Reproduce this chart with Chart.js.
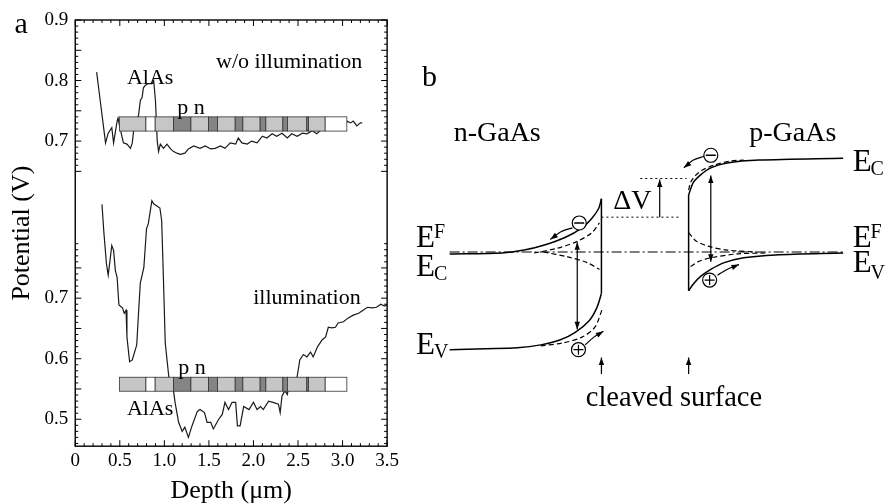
<!DOCTYPE html>
<html>
<head>
<meta charset="utf-8">
<script src="https://cdn.jsdelivr.net/npm/chart.js@4.4.1/dist/chart.umd.min.js"></script>
<style>
  body { margin: 0; background: #fff; }
  #wrap { position: relative; width: 891px; height: 504px; }
  canvas { position: absolute; top: 0; }
</style>
</head>
<body>
<div id="wrap">
  <canvas id="chartA" width="402" height="504" style="left:0"></canvas>
  <canvas id="chartB" width="491" height="504" style="left:400px"></canvas>
</div>
<script>
// ---------- panel a : potential profiles ----------
const depthDark = [0.24, 0.28, 0.34, 0.37, 0.41, 0.43, 0.47, 0.48, 0.505, 0.54,
  0.58, 0.62, 0.64, 0.655, 0.675, 0.71, 0.73, 0.75, 0.765, 0.785,
  0.82, 0.86, 0.88, 0.90, 0.92, 0.935, 0.955, 0.99, 1.03, 1.07,
  1.10, 1.14, 1.18, 1.23, 1.27, 1.33, 1.40, 1.46, 1.52, 1.57,
  1.63, 1.68, 1.74, 1.80, 1.83, 1.87, 1.93, 1.98, 2.04, 2.10,
  2.15, 2.21, 2.26, 2.32, 2.38, 2.43, 2.49, 2.55, 2.60, 2.66,
  2.71, 2.77, 2.80, 3.03, 3.05, 3.09, 3.12, 3.16, 3.20, 3.22];
const potDark = [0.814, 0.767, 0.697, 0.713, 0.722, 0.697, 0.733, 0.738, 0.72, 0.697,
  0.695, 0.688, 0.697, 0.717, 0.733, 0.742, 0.767, 0.772, 0.788, 0.792,
  0.795, 0.795, 0.80, 0.767, 0.70, 0.683, 0.695, 0.688, 0.695, 0.687,
  0.683, 0.68, 0.678, 0.68, 0.687, 0.692, 0.688, 0.692, 0.687, 0.688,
  0.692, 0.688, 0.697, 0.695, 0.705, 0.697, 0.695, 0.70, 0.697, 0.708,
  0.705, 0.712, 0.708, 0.713, 0.705, 0.712, 0.708, 0.713, 0.712, 0.717,
  0.712, 0.72, 0.722, 0.725, 0.733, 0.73, 0.733, 0.725, 0.73, 0.73];

const depthLight = [0.30, 0.32, 0.35, 0.37, 0.39, 0.41, 0.43, 0.45, 0.47, 0.49,
  0.53, 0.55, 0.57, 0.58, 0.61, 0.64, 0.69, 0.71, 0.73, 0.77,
  0.80, 0.82, 0.86, 0.88, 0.92, 0.95, 0.97, 0.99, 1.01, 1.05,
  1.09, 1.12, 1.16, 1.20, 1.23, 1.27, 1.31, 1.37, 1.40, 1.45,
  1.48, 1.52, 1.55, 1.61, 1.65, 1.68, 1.72, 1.76, 1.80, 1.82,
  1.85, 1.89, 1.95, 2.00, 2.04, 2.08, 2.11, 2.17, 2.22, 2.28,
  2.30, 2.32, 2.34, 2.36, 2.38, 2.39, 2.49, 2.52, 2.56, 2.60,
  2.64, 2.67, 2.72, 2.77, 2.81, 2.84, 2.88, 2.92, 2.95, 3.01,
  3.06, 3.12, 3.18, 3.23, 3.28, 3.33, 3.38, 3.43, 3.47, 3.5];
const potLight = [0.855, 0.811, 0.757, 0.738, 0.762, 0.787, 0.779, 0.746, 0.734, 0.689,
  0.684, 0.675, 0.68, 0.636, 0.595, 0.598, 0.623, 0.675, 0.725, 0.751,
  0.815, 0.823, 0.861, 0.856, 0.852, 0.849, 0.828, 0.730, 0.626, 0.570,
  0.561, 0.528, 0.495, 0.48, 0.487, 0.47, 0.489, 0.513, 0.516, 0.511,
  0.495, 0.495, 0.484, 0.50, 0.508, 0.528, 0.516, 0.528, 0.528, 0.489,
  0.489, 0.521, 0.516, 0.528, 0.516, 0.521, 0.516, 0.53, 0.528, 0.525,
  0.511, 0.538, 0.544, 0.546, 0.541, 0.549, 0.570, 0.598, 0.607, 0.603,
  0.611, 0.603, 0.620, 0.631, 0.636, 0.652, 0.651, 0.652, 0.659, 0.661,
  0.667, 0.672, 0.675, 0.68, 0.685, 0.684, 0.685, 0.69, 0.687, 0.689];

const upperTicks = [0.9, 0.8, 0.7];
const lowerTicks = [0.7, 0.6, 0.5];

// layer stack of the sample (depth edges), l = GaAs, d = doped, w = AlAs
const layerEdges = [0.497, 0.793, 0.897, 1.103, 1.298, 1.496, 1.597, 1.795, 1.881,
  2.075, 2.139, 2.33, 2.382, 2.599, 2.617, 2.805, 3.048];
const layerTypes = ['l', 'w', 'l', 'd', 'l', 'd', 'l', 'd', 'l', 'd', 'l', 'd', 'l', 'd', 'l', 'w'];

// ---------- panel b : band diagram (position, energy in arb. units) ----------
const nEcX = [0.07, 1.39, 1.95, 2.44, 2.98, 3.41, 3.66, 3.83, 3.90];
const nEcE = [-0.04, -0.02, 0.04, 0.14, 0.30, 0.50, 0.70, 0.90, 1.10];
const nEvX = [3.90, 3.78, 3.59, 3.24, 2.85, 2.37, 1.78, 0.98, 0.07];
const nEvE = [-0.86, -1.16, -1.42, -1.66, -1.82, -1.92, -1.98, -2.0, -2.02];
const nEcDashX = [2.20, 2.80, 3.29, 3.66, 3.85];
const nEcDashE = [-0.02, 0.08, 0.22, 0.40, 0.60];
const nQfX = [2.44, 3.05, 3.54, 3.85];
const nQfE = [0.0, -0.10, -0.22, -0.36];
const nEvDashX = [2.37, 2.93, 3.41, 3.73, 3.93];
const nEvDashE = [-1.94, -1.88, -1.76, -1.56, -1.16];

const pEcX = [10.0, 7.88, 7.07, 6.66, 6.41, 6.22, 6.10];
const pEcE = [1.94, 1.90, 1.84, 1.74, 1.60, 1.44, 1.18];
const pEvX = [6.10, 6.22, 6.41, 6.66, 7.0, 7.49, 8.29, 10.0];
const pEvE = [-0.80, -0.66, -0.50, -0.36, -0.22, -0.12, -0.06, -0.02];
const pEcDashX = [6.10, 6.15, 6.27, 6.46, 6.76, 7.15, 7.49];
const pEcDashE = [1.28, 1.44, 1.58, 1.70, 1.80, 1.88, 1.90];
const pEvDashX = [6.15, 6.34, 6.66, 7.32, 8.05];
const pEvDashE = [-0.30, -0.20, -0.12, -0.04, -0.02];
const pQfX = [6.10, 6.27, 6.59, 7.07, 7.80];
const pQfE = [0.40, 0.24, 0.12, 0.04, 0.0];

const surfaceX = [3.90, 6.10];
const efLevel = 0.0;
const dvLow = 0.72, dvHigh = 1.52;

const FONT = '"Liberation Serif", "Times New Roman", serif';
Chart.defaults.font.family = FONT;
Chart.defaults.color = '#000';

const toXY = (xs, ys) => xs.map((x, i) => ({ x: x, y: ys[i] }));

// scales of panel a: the upper trace and the lower trace share one frame with a break
const UPPER_MIN = 0.196, UPPER_MAX = 0.9;
const LOWER_MIN = 0.4555, LOWER_MAX = 1.1595;
const SHIFT = LOWER_MAX - UPPER_MAX;
const yTickValues = upperTicks.concat(lowerTicks.map(v => v - SHIFT));

const aLabels = [
  { t: 'a', x: -0.606, y: 0.892, axis: 'y', size: 30 },
  { t: 'w/o illumination', x: 2.40, y: 0.8306, axis: 'y', size: 22 },
  { t: 'AlAs', x: 0.84, y: 0.804, axis: 'y', size: 22 },
  { t: 'p n', x: 1.30, y: 0.7545, axis: 'y', size: 22 },
  { t: 'illumination', x: 2.60, y: 0.70, axis: 'yL', size: 22 },
  { t: 'p n', x: 1.31, y: 0.584, axis: 'yL', size: 22 },
  { t: 'AlAs', x: 0.84, y: 0.5165, axis: 'yL', size: 22 }
];
const layerBars = [
  { axis: 'y', top: 0.740, bottom: 0.7165 },
  { axis: 'yL', top: 0.5694, bottom: 0.5463 }
];
const layerColors = { l: '#c6c6c6', d: '#858585', w: '#ffffff' };

const panelAPlugin = {
  id: 'panelA',
  afterDatasetsDraw(chart) {
    const { ctx, scales } = chart;
    const x = scales.x;
    ctx.save();
    // sample layer bars
    layerBars.forEach(b => {
      const sy = scales[b.axis];
      const t = sy.getPixelForValue(b.top), bt = sy.getPixelForValue(b.bottom);
      for (let i = 0; i < layerTypes.length; i++) {
        const x0 = x.getPixelForValue(layerEdges[i]);
        const x1 = x.getPixelForValue(layerEdges[i + 1]);
        ctx.fillStyle = layerColors[layerTypes[i]];
        ctx.fillRect(x0, t, x1 - x0, bt - t);
        ctx.strokeStyle = '#333';
        ctx.lineWidth = 0.8;
        ctx.strokeRect(x0, t, x1 - x0, bt - t);
      }
    });
    ctx.restore();
  },
  afterDraw(chart) {
    const { ctx, chartArea: a, scales } = chart;
    const x = scales.x;
    ctx.save();
    ctx.strokeStyle = '#000';
    ctx.lineWidth = 1.4;
    ctx.strokeRect(a.left, a.top, a.right - a.left, a.bottom - a.top);
    ctx.lineWidth = 1;
    ctx.beginPath();
    for (let i = 0; i <= 35; i++) {
      const px = x.getPixelForValue(i / 10);
      const len = i % 5 === 0 ? 6 : 3;
      ctx.moveTo(px, a.bottom); ctx.lineTo(px, a.bottom - len);
      ctx.moveTo(px, a.top); ctx.lineTo(px, a.top + len);
    }
    const side = (sc, from, to) => {
      for (let i = from; i <= to; i++) {
        const py = sc.getPixelForValue(i / 100);
        const len = i % 5 === 0 ? 6 : 3;
        ctx.moveTo(a.left, py); ctx.lineTo(a.left + len, py);
        ctx.moveTo(a.right, py); ctx.lineTo(a.right - len, py);
      }
    };
    side(scales.y, 65, 90);
    side(scales.yL, 46, 79);
    ctx.stroke();
    ctx.fillStyle = '#000';
    ctx.textAlign = 'center';
    ctx.textBaseline = 'middle';
    aLabels.forEach(l => {
      ctx.font = l.size + 'px ' + FONT;
      ctx.fillText(l.t, x.getPixelForValue(l.x), scales[l.axis].getPixelForValue(l.y));
    });
    ctx.restore();
  }
};

new Chart(document.getElementById('chartA'), {
  type: 'scatter',
  data: {
    datasets: [
      { label: 'w/o illumination', data: toXY(depthDark, potDark), yAxisID: 'y',
        showLine: true, pointRadius: 0, borderColor: '#1a1a1a', borderWidth: 1.2 },
      { label: 'illumination', data: toXY(depthLight, potLight), yAxisID: 'yL',
        showLine: true, pointRadius: 0, borderColor: '#1a1a1a', borderWidth: 1.2 }
    ]
  },
  options: {
    responsive: false,
    animation: false,
    layout: { padding: { left: 2, right: 11, top: 20, bottom: 0 } },
    plugins: { legend: { display: false }, tooltip: { enabled: false } },
    scales: {
      x: {
        type: 'linear', min: 0, max: 3.5,
        grid: { display: false, drawTicks: false },
        border: { display: false },
        ticks: { stepSize: 0.5, padding: 3, font: { size: 19 },
          callback: v => v === 0 ? '0' : v.toFixed(1) },
        title: { display: true, text: 'Depth (μm)', font: { size: 26, lineHeight: 1 }, padding: { top: 3, bottom: 0 } }
      },
      y: {
        type: 'linear', position: 'left', min: UPPER_MIN, max: UPPER_MAX,
        grid: { display: false, drawTicks: false },
        border: { display: false },
        afterBuildTicks: ax => { ax.ticks = yTickValues.map(v => ({ value: v })); },
        ticks: { padding: 7, font: { size: 19 },
          callback: v => (v > 0.6 ? v : v + SHIFT).toFixed(1) },
        title: { display: true, text: 'Potential (V)', font: { size: 26, lineHeight: 1 }, padding: { top: 7, bottom: 2.5 } }
      },
      yL: { type: 'linear', display: false, min: LOWER_MIN, max: LOWER_MAX }
    }
  },
  plugins: [panelAPlugin]
});

// ---------- panel b ----------
const curve = (xs, es, dash, width, extra) => Object.assign({
  data: toXY(xs, es), showLine: true, pointRadius: 0, borderColor: '#000',
  borderWidth: width || 1.5, borderDash: dash || [], tension: 0.3, order: 3
}, extra || {});

const bLabels = [
  { t: 'b', x: -0.44, y: 3.6, size: 30 },
  { t: 'n-GaAs', x: 1.27, y: 2.44, size: 28 },
  { t: 'p-GaAs', x: 8.73, y: 2.44, size: 28 },
  { t: 'ΔV', x: 4.68, y: 1.04, size: 28 },
  { t: 'cleaved surface', x: 5.73, y: -3.02, size: 28.5 }
];
const eLabels = [
  { sub: 'F', x: -0.78, y: 0.10, sy: 0.28 },
  { sub: 'C', x: -0.78, y: -0.50, sy: -0.58 },
  { sub: 'V', x: -0.78, y: -2.10, sy: -2.20 },
  { sub: 'C', x: 10.24, y: 1.68, sy: 1.60 },
  { sub: 'F', x: 10.24, y: 0.10, sy: 0.28 },
  { sub: 'V', x: 10.24, y: -0.42, sy: -0.56 }
];

function arrowHead(ctx, from, to, size) {
  const ang = Math.atan2(to.y - from.y, to.x - from.x);
  ctx.beginPath();
  ctx.moveTo(to.x, to.y);
  ctx.lineTo(to.x - size * Math.cos(ang - 0.34), to.y - size * Math.sin(ang - 0.34));
  ctx.lineTo(to.x - size * Math.cos(ang + 0.34), to.y - size * Math.sin(ang + 0.34));
  ctx.closePath();
  ctx.fill();
}

const panelBPlugin = {
  id: 'panelB',
  afterDatasetsDraw(chart) {
    const { ctx, scales: { x, y } } = chart;
    ctx.save();
    ctx.fillStyle = '#000';
    chart.data.datasets.forEach((ds, i) => {
      if (!ds.arrow) return;
      const pts = chart.getDatasetMeta(i).data;
      const n = pts.length;
      arrowHead(ctx, pts[n - 2], pts[n - 1], 8);
      if (ds.arrow === 'both') arrowHead(ctx, pts[1], pts[0], 8);
    });
    ctx.textAlign = 'center';
    ctx.textBaseline = 'middle';
    bLabels.forEach(l => {
      ctx.font = l.size + 'px ' + FONT;
      ctx.fillText(l.t, x.getPixelForValue(l.x), y.getPixelForValue(l.y));
    });
    ctx.textAlign = 'left';
    ctx.textBaseline = 'alphabetic';
    eLabels.forEach(l => {
      const px = x.getPixelForValue(l.x);
      ctx.font = '31px ' + FONT;
      ctx.fillText('E', px, y.getPixelForValue(l.y));
      const w = ctx.measureText('E').width;
      ctx.font = '20px ' + FONT;
      ctx.fillText(l.sub, px + w - 1, y.getPixelForValue(l.sy));
    });
    ctx.restore();
  }
};

const circleStyle = { showLine: false, pointStyle: 'circle', pointRadius: 7,
  pointBackgroundColor: '#fff', pointBorderColor: '#000', pointBorderWidth: 1.2, order: 2 };

new Chart(document.getElementById('chartB'), {
  type: 'scatter',
  data: {
    datasets: [
      curve([0.07, 10.0], [efLevel, efLevel], [10, 3, 2, 3], 1.2, { tension: 0 }),
      curve(nEcX, nEcE),
      curve([surfaceX[0], surfaceX[0]], [1.10, -0.86], null, 1.5, { tension: 0 }),
      curve(nEvX, nEvE),
      curve(nEcDashX, nEcDashE, [5, 3], 1.2),
      curve(nQfX, nQfE, [5, 3], 1.2),
      curve(nEvDashX, nEvDashE, [5, 3], 1.2),
      curve(pEcX, pEcE),
      curve([surfaceX[1], surfaceX[1]], [1.18, -0.80], null, 1.5, { tension: 0 }),
      curve(pEvX, pEvE),
      curve(pEcDashX, pEcDashE, [5, 3], 1.2),
      curve(pEvDashX, pEvDashE, [5, 3], 1.2),
      curve(pQfX, pQfE, [5, 3], 1.2),
      curve([4.88, 6.05], [dvHigh, dvHigh], [2, 3], 1, { tension: 0 }),
      curve([3.90, 5.90], [dvLow, dvLow], [2, 3], 1, { tension: 0 }),
      curve([5.37, 5.37], [dvLow, dvHigh - 0.02], null, 1.2, { tension: 0, arrow: 'end' }),
      curve([3.29, 3.29], [0.20, -1.60], null, 1.2, { tension: 0, arrow: 'both' }),
      curve([6.66, 6.66], [1.58, -0.20], null, 1.2, { tension: 0, arrow: 'both' }),
      curve([surfaceX[0], surfaceX[0]], [-2.52, -2.18], null, 1.2, { tension: 0, arrow: 'end' }),
      curve([surfaceX[1], surfaceX[1]], [-2.52, -2.18], null, 1.2, { tension: 0, arrow: 'end' }),
      curve([3.17, 2.88, 2.61], [0.50, 0.42, 0.26], null, 1.2, { arrow: 'end' }),
      curve([3.49, 3.71, 3.95], [-1.92, -1.76, -1.64], null, 1.2, { arrow: 'end' }),
      curve([6.49, 6.22, 5.98], [1.98, 1.90, 1.74], null, 1.2, { arrow: 'end' }),
      curve([6.83, 7.07, 7.37], [-0.48, -0.36, -0.26], null, 1.2, { arrow: 'end' }),
      Object.assign({ data: toXY([3.34, 6.66], [0.60, 2.00]) }, circleStyle),
      Object.assign({ data: toXY([3.32, 6.63], [-2.02, -0.58]) }, circleStyle),
      { data: toXY([3.34, 6.66], [0.60, 2.00]), showLine: false, pointStyle: 'line',
        pointRadius: 5, pointBorderColor: '#000', pointBorderWidth: 1.5, order: 1 },
      { data: toXY([3.32, 6.63], [-2.02, -0.58]), showLine: false, pointStyle: 'cross',
        pointRadius: 5, pointBorderColor: '#000', pointBorderWidth: 1.2, order: 1 }
    ]
  },
  options: {
    responsive: false,
    animation: false,
    layout: { padding: 0 },
    plugins: { legend: { display: false }, tooltip: { enabled: false } },
    scales: {
      x: { type: 'linear', display: false, min: -0.976, max: 11.0 },
      y: { type: 'linear', display: false, min: -5.04, max: 5.04 }
    }
  },
  plugins: [panelBPlugin]
});
</script>
</body>
</html>
